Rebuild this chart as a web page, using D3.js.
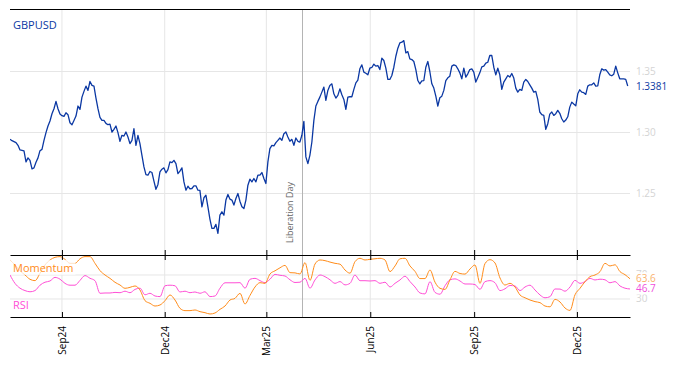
<!DOCTYPE html>
<html>
<head>
<meta charset="utf-8">
<script src="https://cdn.jsdelivr.net/npm/d3@7"></script>
<style>
body{margin:0;background:#fff;}
svg{display:block;font-family:"Open Sans",sans-serif;}
</style>
</head>
<body>
<svg id="chart" width="681" height="366"></svg>
<script>
// GBPUSD closes, evenly spaced between priceSpan dates
var priceValues=[
1.2944,1.2933,1.2925,1.2917,1.2895,1.2857,1.2854,1.2849,1.2759,1.2792,
1.2772,1.2702,1.2710,1.2756,1.2792,1.2851,1.2862,1.2936,1.2999,1.3053,
1.3094,1.3154,1.3195,1.3255,1.3195,1.3151,1.3138,1.3132,1.3162,1.3146,
1.3080,1.3064,1.3099,1.3135,1.3217,1.3189,1.3290,1.3337,1.3380,1.3345,
1.3418,1.3386,1.3380,1.3282,1.3195,1.3124,1.3099,1.3099,1.3075,1.3064,
1.3069,
1.3004,1.3026,1.3053,1.2999,1.2928,1.2977,1.2971,1.3004,1.2963,1.2909,
1.2936,1.3031,1.2895,1.2977,1.2909,1.2813,1.2718,1.2655,1.2650,1.2680,
1.2672,1.2601,1.2535,1.2574,1.2677,1.2699,1.2710,1.2669,1.2696,1.2759,
1.2753,1.2772,1.2745,1.2663,1.2683,1.2710,1.2595,1.2527,1.2560,1.2538,
1.2541,1.2563,1.2563,1.2527,1.2525,1.2391,1.2465,1.2486,1.2391,1.2290,
1.2214,1.2214,
1.2247,1.2173,1.2323,1.2350,1.2323,1.2446,1.2492,1.2454,1.2446,1.2405,
1.2459,1.2500,1.2437,1.2391,1.2377,1.2446,1.2568,1.2617,1.2595,1.2623,
1.2595,1.2650,1.2650,1.2672,1.2623,1.2582,1.2759,1.2868,1.2895,1.2890,
1.2917,1.2936,1.2955,1.2936,1.2990,1.3004,1.2963,1.2928,1.2944,1.2895,
1.2955,1.2928,1.2922,1.2977,1.3091,1.2800,1.2745,1.2813,1.2922,1.3099,
1.3217,1.3255,
1.3290,1.3331,1.3372,1.3263,1.3345,1.3386,1.3399,1.3317,1.3282,1.3304,
1.3358,1.3309,1.3271,1.3189,1.3290,1.3293,1.3293,1.3353,1.3407,1.3429,
1.3522,1.3554,1.3495,1.3486,1.3473,1.3527,1.3533,1.3560,1.3544,1.3549,
1.3516,1.3609,1.3590,1.3527,1.3435,1.3435,1.3467,1.3535,1.3625,1.3691,
1.3734,1.3740,1.3753,1.3653,1.3663,1.3604,1.3598,1.3582,1.3516,1.3426,
1.3399,1.3424,
1.3426,1.3535,1.3582,1.3500,1.3399,1.3364,1.3298,1.3217,1.3285,1.3298,
1.3345,1.3426,1.3448,1.3462,1.3544,1.3554,1.3549,1.3522,1.3489,1.3440,
1.3527,1.3454,1.3481,1.3516,1.3522,1.3495,1.3413,1.3451,1.3489,1.3538,
1.3544,1.3568,1.3576,1.3631,1.3631,1.3535,1.3473,1.3527,1.3473,1.3353,
1.3413,1.3440,1.3467,1.3454,1.3484,1.3446,1.3364,1.3331,1.3353,1.3345,
1.3413,1.3435,
1.3418,1.3391,1.3364,1.3331,1.3337,1.3271,1.3168,1.3146,1.3140,1.3026,
1.3072,1.3151,1.3168,1.3140,1.3154,1.3181,1.3157,1.3113,1.3086,1.3102,
1.3129,1.3208,1.3249,1.3233,1.3219,1.3317,1.3350,1.3331,1.3326,1.3312,
1.3380,1.3391,1.3391,1.3407,1.3380,1.3383,1.3473,1.3522,1.3511,1.3516,
1.3495,1.3473,1.3465,1.3478,1.3544,1.3489,1.3440,1.3440,1.3440,1.3435,
1.3381
];
var priceSpan=["2024-07-17","2026-01-15"];

// indicators, evenly spaced between indicatorSpan dates
var momentumValues=[
95,86.7,77,70,62.8,60.6,72.8,86.7,95,99.4,
100.6,96,89.4,89.4,97,100.6,100.6,89.4,77.2,70,
64.4,57.8,53.3,47.8,49.4,51.7,45,27.2,22.8,18.3,
20,27.2,36.7,28.3,14.4,10.6,10.6,11.7,8.9,7.2,
5,6.7,12.8,18.3,28.3,31.1,39.4,
21.7,36,50,57.2,56,71.7,77,82,86,73.9,
73.5,71.7,90.6,61,88.3,95,93.9,91.5,89.4,88,
78.3,73,92.2,97.8,95,96.1,97,97.8,95,75.6,
85,97,97.8,85,76,64,64,78.3,58,47.8,
46,62,76,72.5,71.5,80,86.7,56.1,
89,95.5,90,65,53.3,56.1,50,36.7,32,28.3,
25.6,23.9,18.3,17,29.4,25,15,11,37,47.8,
58.9,67.2,70,75.6,89.4,85,87,75.6,70.5,63.6
];
var rsiValues=[
70,56,48,44,42,44,53,58,60,66,
63,56,53,53,61,69,64.5,60.5,39.5,40,
40,41,40.5,43,40.5,46,48,37,39.5,35,
34,52,53,52,41.7,43,40.5,41.7,39.5,42,
34,35,48,57,57,57,57.2,
48,62.8,64.4,60.6,57.2,63,71,69.5,68.3,62,
57.5,58,64.4,48,61.7,70,67.2,62,56.1,59,
53.5,56.1,70,60.5,60.5,60,60.6,56.1,58,50,
56.1,61.7,68,59,50,40,38.5,58.9,41,38,
52,62,63.5,60,55,55,54,46.1,
58.9,60.6,57,44,47,52.5,51.7,44,50,53,
45,36.7,32,33.9,46.7,46.5,43,50,61,56.1,
58.9,64.4,61.7,63,62,57,59,51.7,48,46.7
];
var indicatorSpan=["2024-07-17","2026-01-17"];

var tickDates=["2024-09-01","2024-12-01","2025-03-01","2025-06-01","2025-09-01","2025-12-01"];
var priceTicks=[1.25,1.30,1.35];
var indicatorTicks=[30,70];
var eventDate="2025-04-02";
var eventLabel="Liberation Day";

var parse=d3.timeParse("%Y-%m-%d");

function spread(values,span){
	let t=d3.scaleTime().domain(span.map(parse)).range([0,values.length-1]);
	return values.map((v,i)=>({date:t.invert(i),value:v}));
}

var priceData=spread(priceValues,priceSpan);
var momentumData=spread(momentumValues,indicatorSpan);
var rsiData=spread(rsiValues,indicatorSpan);

var left=10,right=630;
var top1=9.5,bottom1=255,bottom2=317;

var xScale=d3.scaleTime()
.domain([parse("2024-07-17"),parse("2026-01-17")])
.range([left,right]);

var yPrice=d3.scaleLinear()
.domain([1.2,1.4])
.range([254.5,10.5]);

var yInd=d3.scaleLinear()
.domain([0,103.3])
.range([bottom2,bottom1]);

var blue="#0b38a3",orange="#ff8c1a",magenta="#ff4fd6",grid="#e6e6e6",faint="#d4d4d4";

var svg=d3.select("#chart");
var defs=svg.append("defs");
defs.append("clipPath").attr("id","clipTop")
.append("rect").attr("x",left).attr("y",top1).attr("width",right-left).attr("height",bottom1-top1);
defs.append("clipPath").attr("id","clipBottom")
.append("rect").attr("x",left).attr("y",bottom1).attr("width",right-left).attr("height",bottom2-bottom1);

// grid
var tickVals=tickDates.map(parse);
svg.append("g").selectAll("line")
.data(tickVals)
.enter().append("line")
.attr("x1",d=>xScale(d)).attr("x2",d=>xScale(d))
.attr("y1",top1).attr("y2",bottom2)
.attr("stroke",grid);

svg.append("g").selectAll("line")
.data(priceTicks)
.enter().append("line")
.attr("x1",left).attr("x2",right)
.attr("y1",d=>yPrice(d)).attr("y2",d=>yPrice(d))
.attr("stroke",grid);

svg.append("g").selectAll("line")
.data(indicatorTicks)
.enter().append("line")
.attr("x1",left).attr("x2",right)
.attr("y1",d=>yInd(d)).attr("y2",d=>yInd(d))
.attr("stroke",grid);

// event marker
var ex=Math.round(xScale(parse(eventDate)))+0.5;
svg.append("line")
.attr("x1",ex).attr("x2",ex)
.attr("y1",top1).attr("y2",bottom2)
.attr("stroke","#b4b4b4");
svg.append("text")
.text(eventLabel)
.attr("transform",`translate(${ex-9.5},243) rotate(-90)`)
.attr("font-size","9px")
.attr("fill","#666");

// lines
var priceLine=d3.line().x(d=>xScale(d.date)).y(d=>yPrice(d.value));
var indLine=d3.line().x(d=>xScale(d.date)).y(d=>yInd(d.value)).curve(d3.curveMonotoneX);

svg.append("path")
.datum(priceData)
.attr("clip-path","url(#clipTop)")
.attr("d",priceLine)
.attr("fill","none")
.attr("stroke",blue)
.attr("stroke-width",1.3)
.attr("stroke-linejoin","round");

svg.append("path")
.datum(rsiData)
.attr("clip-path","url(#clipBottom)")
.attr("d",indLine)
.attr("fill","none")
.attr("stroke",magenta)
.attr("stroke-width",1);

svg.append("path")
.datum(momentumData)
.attr("clip-path","url(#clipBottom)")
.attr("d",indLine)
.attr("fill","none")
.attr("stroke",orange)
.attr("stroke-width",1);

// frame and axes
svg.append("line")
.attr("x1",left).attr("x2",right)
.attr("y1",top1).attr("y2",top1)
.attr("stroke","#000");

var midAxis=svg.append("g")
.attr("transform","translate(0,"+bottom1+")")
.call(d3.axisBottom(xScale).tickValues(tickVals).tickSizeOuter(0).tickSizeInner(5).tickFormat(""));
midAxis.selectAll(".tick line").attr("y1",-5).attr("y2",5);

var bottomAxis=svg.append("g")
.attr("transform","translate(0,"+bottom2+")")
.call(d3.axisBottom(xScale).tickValues(tickVals).tickSizeOuter(0).tickSizeInner(-5).tickFormat(d3.timeFormat("%b%y")));
bottomAxis.selectAll("text")
.attr("transform","rotate(-90)")
.attr("x",-9)
.attr("y",0)
.attr("dy","0.35em")
.style("text-anchor","end")
.attr("font-size","10px")
.attr("font-family","Open Sans")
.attr("fill","#000");

svg.selectAll(".domain").attr("stroke","#000").attr("stroke-width",1.2);

// right labels
svg.append("g").selectAll("text")
.data(priceTicks)
.enter().append("text")
.attr("x",636).attr("y",d=>yPrice(d)).attr("dy","0.35em")
.attr("font-size","10px").attr("fill",faint)
.text(d=>d3.format(".2f")(d));

svg.append("g").selectAll("text")
.data(indicatorTicks)
.enter().append("text")
.attr("x",636).attr("y",d=>yInd(d)).attr("dy","0.35em")
.attr("font-size","10px").attr("fill",faint)
.text(d=>d);

function valueLabel(y,txt,color){
	let g=svg.append("g");
	let t=g.append("text")
	.attr("x",636).attr("y",y).attr("dy","0.35em")
	.attr("font-size","10px").attr("fill",color)
	.text(txt);
	let b=t.node().getBBox();
	g.insert("rect","text")
	.attr("x",b.x-1).attr("y",b.y+1).attr("width",b.width+2).attr("height",b.height-2)
	.attr("fill","#fff");
}
var lastPrice=priceValues[priceValues.length-1];
var lastMom=momentumValues[momentumValues.length-1];
var lastRsi=rsiValues[rsiValues.length-1];
valueLabel(yPrice(lastPrice),d3.format(".4f")(lastPrice),blue);
valueLabel(yInd(lastMom),d3.format(".1f")(lastMom),"#f9b26e");
valueLabel(yInd(lastRsi),d3.format(".1f")(lastRsi),"#f04fdc");

// panel titles
svg.append("text")
.attr("x",13).attr("y",25).attr("dy","0.35em")
.attr("font-size","11px").attr("fill",blue)
.text("GBPUSD");

var momLabel=svg.append("g");
var mt=momLabel.append("text")
.attr("x",13).attr("y",268).attr("dy","0.35em")
.attr("font-size","11px").attr("fill",orange)
.text("Momentum");
var mb=mt.node().getBBox();
momLabel.insert("rect","text")
.attr("x",left).attr("y",mb.y).attr("width",mb.width+5).attr("height",mb.height)
.attr("fill","#fff").attr("opacity",0.75);

svg.append("text")
.attr("x",13).attr("y",305).attr("dy","0.35em")
.attr("font-size","11px").attr("fill",magenta)
.text("RSI");
</script>
</body>
</html>
